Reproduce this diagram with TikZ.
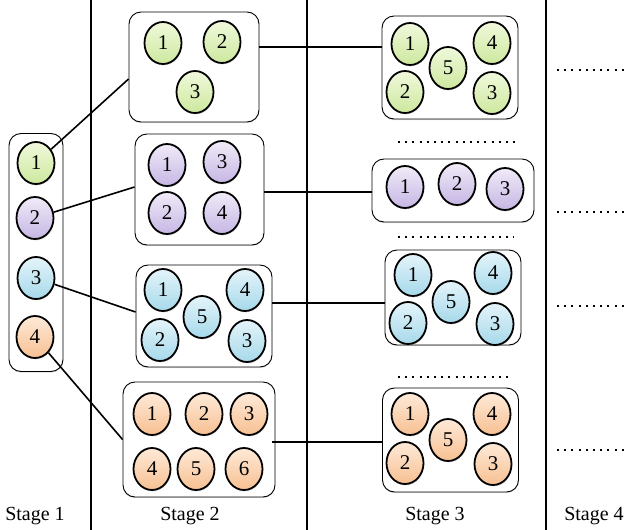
\documentclass[tikz,border=0pt]{standalone}
\usepackage{fontspec}
\setmainfont{Liberation Serif}
\usetikzlibrary{shapes.geometric,shadows}
\definecolor{gtop}{RGB}{240,249,220}
\definecolor{gbot}{RGB}{205,232,158}
\definecolor{ptop}{RGB}{240,235,248}
\definecolor{pbot}{RGB}{198,182,228}
\definecolor{btop}{RGB}{228,244,250}
\definecolor{bbot}{RGB}{166,217,234}
\definecolor{otop}{RGB}{254,234,216}
\definecolor{obot}{RGB}{247,192,146}
\begin{document}
\begin{tikzpicture}[x=1pt,y=-1pt,
  ball/.style={ellipse, draw=black, line width=1.8pt, minimum width=37pt,
    minimum height=42pt, inner sep=0pt, font=\fontsize{21}{24}\selectfont,
    drop shadow={shadow xshift=0.6pt, shadow yshift=-1.4pt, opacity=0.3}},
  gball/.style={ball, top color=gtop, bottom color=gbot},
  pball/.style={ball, top color=ptop, bottom color=pbot},
  bball/.style={ball, top color=btop, bottom color=bbot},
  oball/.style={ball, top color=otop, bottom color=obot},
  grp/.style={draw=black, line width=0.9pt, rounded corners=12pt, fill=white,
    inner sep=0pt, drop shadow={shadow xshift=0pt, shadow yshift=-1.2pt, opacity=0.25}},
  conn/.style={draw=black, line width=1.6pt},
  divider/.style={draw=black, line width=1.6pt},
  dots/.style={draw=black, line width=1.9pt, dash pattern=on 1.9pt off 5.3pt},
  stagelbl/.style={font=\fontsize{20}{24}\selectfont, inner sep=0pt}
]
\useasboundingbox (0,0) rectangle (625,530);

% column dividers
\draw[divider] (91,0) -- (91,530);
\draw[divider] (307,0) -- (307,530);
\draw[divider] (546,0) -- (546,530);

% stage 1
\node[grp, minimum width=54pt, minimum height=238pt] (s1) at (36,252.5) {};
\node[gball] (s1a) at (36,163) {1};
\node[pball] (s1b) at (35,218) {2};
\node[bball] (s1c) at (36,278) {3};
\node[oball] (s1d) at (35,337) {4};

% stage 2 groups
\node[grp, minimum width=130pt, minimum height=110pt] (g2) at (194,67) {};
\node[gball] (g2a) at (163,43) {1};
\node[gball] (g2b) at (222,42) {2};
\node[gball] (g2c) at (195,92) {3};

\node[grp, minimum width=129pt, minimum height=111pt] (p2) at (199.5,189.5) {};
\node[pball] (p2a) at (167,165) {1};
\node[pball] (p2c) at (222,162) {3};
\node[pball] (p2b) at (167,213) {2};
\node[pball] (p2d) at (222,213) {4};

\node[grp, minimum width=136pt, minimum height=102pt] (b2) at (204,316) {};
\node[bball] (b2a) at (163,290) {1};
\node[bball] (b2d) at (245,290) {4};
\node[bball] (b2e) at (202,317) {5};
\node[bball] (b2b) at (160,340) {2};
\node[bball] (b2c) at (247,341) {3};

\node[grp, minimum width=152pt, minimum height=115pt] (o2) at (199,439.5) {};
\node[oball] (o2a) at (152,414) {1};
\node[oball] (o2b) at (204,414) {2};
\node[oball] (o2c) at (249,414) {3};
\node[oball] (o2d) at (152,469) {4};
\node[oball] (o2e) at (196,469) {5};
\node[oball] (o2f) at (244,469) {6};

% stage 3 groups
\node[grp, minimum width=136pt, minimum height=103pt] (g3) at (450,67.5) {};
\node[gball] (g3a) at (410,44) {1};
\node[gball] (g3d) at (492,43) {4};
\node[gball] (g3e) at (448,68) {5};
\node[gball] (g3b) at (405,92) {2};
\node[gball] (g3c) at (492,93) {3};

\node[grp, minimum width=162pt, minimum height=63pt] (p3) at (453,190.5) {};
\node[pball] (p3a) at (405,187) {1};
\node[pball] (p3b) at (457,184) {2};
\node[pball] (p3c) at (505,189) {3};

\node[grp, minimum width=136pt, minimum height=95pt] (b3) at (453,297.5) {};
\node[bball] (b3a) at (413,275) {1};
\node[bball] (b3d) at (493,273) {4};
\node[bball] (b3e) at (451,302) {5};
\node[bball] (b3b) at (408,323) {2};
\node[bball] (b3c) at (495,324) {3};

\node[grp, minimum width=136pt, minimum height=104pt] (o3) at (450.5,440) {};
\node[oball] (o3a) at (410,414) {1};
\node[oball] (o3d) at (492,414) {4};
\node[oball] (o3e) at (448,440) {5};
\node[oball] (o3b) at (405,463) {2};
\node[oball] (o3c) at (493,464) {3};

% links from stage 1 to stage 2
\draw[conn] (s1a) -- ([yshift=-12pt]g2.west);
\draw[conn] (s1b) -- ([yshift=2.5pt]p2.west);
\draw[conn] (s1c) -- ([yshift=4pt]b2.west);
\draw[conn] (s1d) -- (o2.west);

% links from stage 2 to stage 3
\coordinate (gl) at (0,47);
\coordinate (pl) at (0,192);
\coordinate (bl) at (0,303);
\coordinate (ol) at (0,442);
\draw[conn] (g2.east |- gl) -- (g3.west |- gl);
\draw[conn] (p2.east |- pl) -- (p3.west |- pl);
\draw[conn] (b2.east |- bl) -- (b3.west |- bl);
\draw[conn] ([xshift=-3pt]o2.east |- ol) -- (o3.west |- ol);

% omitted groups in stage 3
\draw[dots] (398,142) -- (519,142);
\draw[dots] (398,237) -- (514,237);
\draw[dots] (398,377) -- (509,377);

% stage 4 continuation
\draw[dots] (557,70) -- (624,70);
\draw[dots] (557,212) -- (624,212);
\draw[dots] (557,306) -- (624,306);
\draw[dots] (557,450) -- (625,450);

% stage captions
\node[stagelbl] (t1) at (35,516) {Stage 1};
\node[stagelbl] (t2) at (190,516) {Stage 2};
\node[stagelbl] (t3) at (435,516) {Stage 3};
\node[stagelbl] (t4) at (594,516) {Stage 4};
\end{tikzpicture}
\end{document}
